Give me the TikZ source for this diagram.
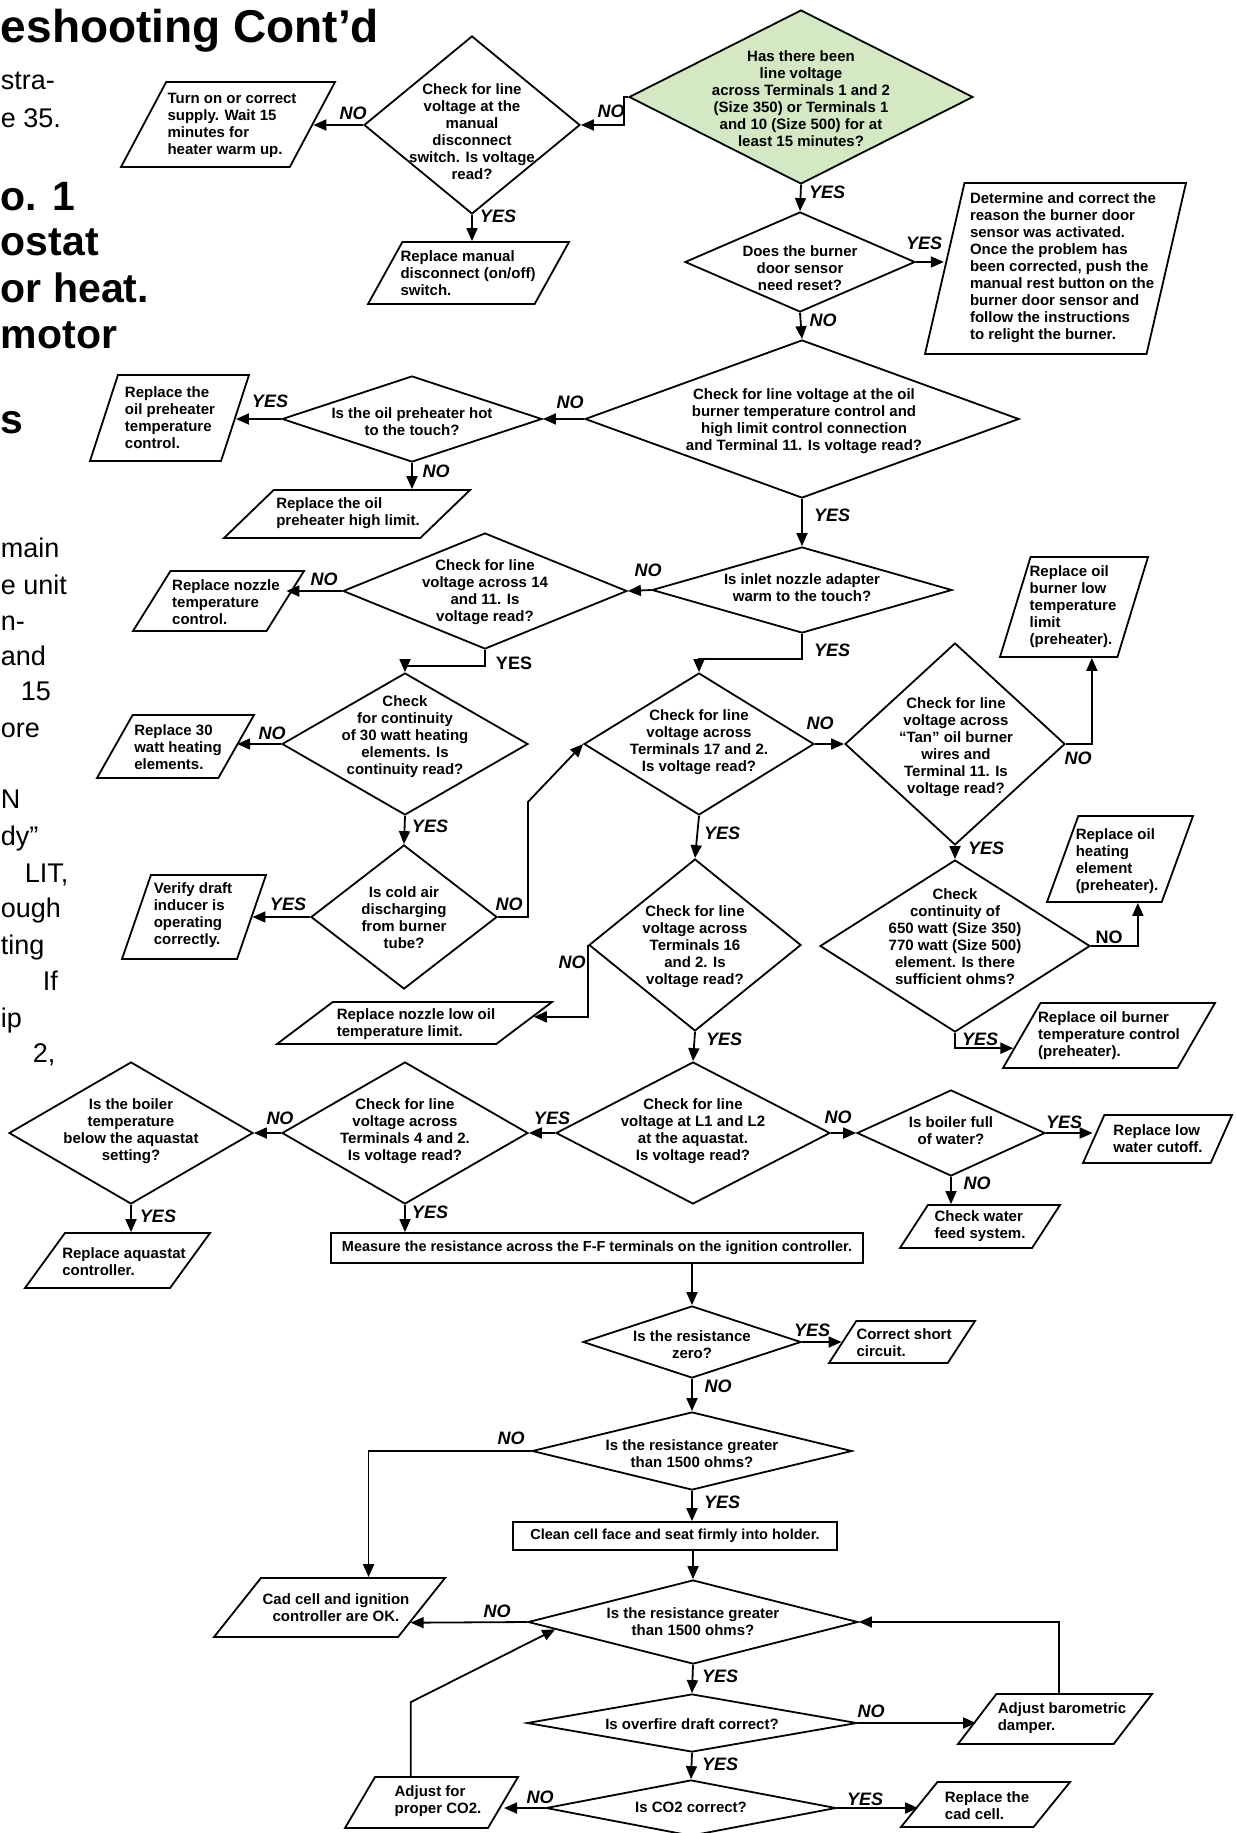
\documentclass[tikz,border=0pt]{standalone}
\usepackage{fontspec}
\setmainfont{Liberation Sans}
\usetikzlibrary{shapes.geometric,arrows.meta,calc}
\definecolor{startgreen}{RGB}{212,232,196}

\begin{document}
\begin{tikzpicture}[x=1pt,y=-1pt,line width=1.8pt]
	\tikzstyle{every node}=[font=\fontsize{15}{17}\selectfont\bfseries]
	\tikzstyle{dec}=[diamond,draw,inner sep=0pt]
	\tikzstyle{dtext}=[align=center,inner sep=0pt]
	\tikzstyle{io}=[trapezium,draw,trapezium stretches body=true,inner xsep=0pt]
	\tikzstyle{ptext}=[align=left,inner sep=0pt]
	\tikzstyle{proc}=[rectangle,draw,inner sep=0pt,font=\fontsize{14.5}{17}\selectfont\bfseries]
	\tikzstyle{lbl}=[inner sep=0pt,font=\fontsize{18}{20}\selectfont\bfseries\itshape]
	\tikzstyle{lblup}=[inner sep=0pt,font=\fontsize{18}{20}\selectfont\bfseries]
	\tikzstyle{arr}=[-{Triangle[length=13pt,width=11pt]}]
	\tikzstyle{pagebody}=[anchor=base west,inner sep=0pt,font=\fontsize{27}{36}\selectfont]
	\tikzstyle{pagehead}=[anchor=base west,inner sep=0pt,font=\fontsize{41}{46}\selectfont\bfseries]
	\useasboundingbox (0,0) rectangle (1235,1833);

	\node[pagehead,font=\fontsize{46}{50}\selectfont\bfseries] (title) at (0,43) {eshooting Cont’d};
	\node[pagebody] (pb1) at (0,90) {stra-};
	\node[pagebody] (pb2) at (0,128) {e 35.};
	\node[pagehead] (ph1) at (0,210) {o. 1};
	\node[pagehead] (ph2) at (0,255) {ostat};
	\node[pagehead] (ph3) at (0,302) {or heat.};
	\node[pagehead] (ph4) at (0,348) {motor};
	\node[pagehead] (ph5) at (0,433) {s};
	\node[pagebody] (pb3) at (0,557) {main};
	\node[pagebody] (pb4) at (0,594) {e unit};
	\node[pagebody] (pb5) at (0,630) {n-};
	\node[pagebody] (pb6) at (0,665) {and};
	\node[pagebody] (pb7) at (20,700) {15};
	\node[pagebody] (pb8) at (0,737) {ore};
	\node[pagebody] (pb9) at (0,808) {N};
	\node[pagebody] (pb10) at (0,845) {dy”};
	\node[pagebody] (pb11) at (24,882) {LIT,};
	\node[pagebody] (pb12) at (0,917) {ough};
	\node[pagebody] (pb13) at (0,954) {ting};
	\node[pagebody] (pb14) at (42,990) {If};
	\node[pagebody] (pb15) at (0,1027) {ip};
	\node[pagebody] (pb16) at (32,1062) {2,};

	\node[dec,fill=startgreen,minimum width=344pt,minimum height=174pt] (D1) at (801,97) {};
	\node[dtext] (D1t) at (801,99) {Has there been\\line voltage\\across Terminals 1 and 2\\(Size 350) or Terminals 1\\and 10 (Size 500) for at\\least 15 minutes?};
	\node[dec,minimum width=216pt,minimum height=178pt] (D0) at (472,125) {};
	\node[dtext] (D0t) at (472,132) {Check for line\\voltage at the\\manual\\disconnect\\switch. Is voltage\\read?};
	\node[dec,minimum width=230pt,minimum height=100pt] (D2) at (800,262) {};
	\node[dtext] (D2t) at (800,268) {Does the burner\\door sensor\\need reset?};
	\node[dec,minimum width=434pt,minimum height=158pt] (D3) at (802,419) {};
	\node[dtext] (D3t) at (804,421) {Check for line voltage at the oil\\burner temperature control and\\high limit control connection\\and Terminal 11. Is voltage read?};
	\node[dec,minimum width=260pt,minimum height=86pt] (D4) at (412,419) {};
	\node[dtext] (D4t) at (412,422) {Is the oil preheater hot\\to the touch?};
	\node[dec,minimum width=300pt,minimum height=86pt] (D5) at (802,590) {};
	\node[dtext] (D5t) at (802,588) {Is inlet nozzle adapter\\warm to the touch?};
	\node[dec,minimum width=284pt,minimum height=116pt] (D6) at (485,591) {};
	\node[dtext] (D6t) at (485,592) {Check for line\\voltage across 14\\and 11. Is\\voltage read?};
	\node[dec,minimum width=246pt,minimum height=142pt] (D7) at (405,744) {};
	\node[dtext] (D7t) at (405,737) {Check\\for continuity\\of 30 watt heating\\elements. Is\\continuity read?};
	\node[dec,minimum width=186pt,minimum height=144pt] (D8) at (404,917) {};
	\node[dtext] (D8t) at (404,918) {Is cold air\\discharging\\from burner\\tube?};
	\node[dec,minimum width=230pt,minimum height=142pt] (D9) at (699,744) {};
	\node[dtext] (D9t) at (699,742) {Check for line\\voltage across\\Terminals 17 and 2.\\Is voltage read?};
	\node[dec,minimum width=220pt,minimum height=202pt] (D10) at (955,744) {};
	\node[dtext] (D10t) at (956,747) {Check for line\\voltage across\\“Tan” oil burner\\wires and\\Terminal 11. Is\\voltage read?};
	\node[dec,minimum width=270pt,minimum height=172pt] (D11) at (955,946) {};
	\node[dtext] (D11t) at (955,937) {Check\\continuity of\\650 watt (Size 350)\\770 watt (Size 500)\\element. Is there\\sufficient ohms?};
	\node[dec,minimum width=212pt,minimum height=172pt] (D12) at (695,945) {};
	\node[dtext] (D12t) at (695,947) {Check for line\\voltage across\\Terminals 16\\and 2. Is\\voltage read?};
	\node[dec,minimum width=274pt,minimum height=142pt] (D13) at (693,1133) {};
	\node[dtext] (D13t) at (693,1131) {Check for line\\voltage at L1 and L2\\at the aquastat.\\Is voltage read?};
	\node[dec,minimum width=246pt,minimum height=142pt] (D14) at (405,1133) {};
	\node[dtext] (D14t) at (405,1131) {Check for line\\voltage across\\Terminals 4 and 2.\\Is voltage read?};
	\node[dec,minimum width=244pt,minimum height=142pt] (D15) at (131,1133) {};
	\node[dtext] (D15t) at (131,1131) {Is the boiler\\temperature\\below the aquastat\\setting?};
	\node[dec,minimum width=188pt,minimum height=86pt] (D16) at (951,1133) {};
	\node[dtext] (D16t) at (951,1131) {Is boiler full\\of water?};
	\node[dec,minimum width=218pt,minimum height=72pt] (D17) at (692,1342) {};
	\node[dtext] (D17t) at (692,1345) {Is the resistance\\zero?};
	\node[dec,minimum width=320pt,minimum height=78pt] (D18) at (692,1451) {};
	\node[dtext] (D18t) at (692,1454) {Is the resistance greater\\than 1500 ohms?};
	\node[dec,minimum width=330pt,minimum height=84pt] (D19) at (693,1622) {};
	\node[dtext] (D19t) at (693,1622) {Is the resistance greater\\than 1500 ohms?};
	\node[dec,minimum width=330pt,minimum height=58pt] (D20) at (692,1723) {};
	\node[dtext] (D20t) at (692,1724) {Is overfire draft correct?};
	\node[dec,minimum width=290pt,minimum height=56pt] (D21) at (691,1808) {};
	\node[dtext] (D21t) at (691,1807) {Is CO2 correct?};

	\node[io,trapezium left angle=62,trapezium right angle=118,minimum width=214pt,inner ysep=42.5pt] (P_turnon) at (228,124.5) {};
	\node[ptext] (P_turnont) at (232,125) {Turn on or correct\\supply. Wait 15\\minutes for\\heater warm up.};
	\node[io,trapezium left angle=61,trapezium right angle=119,minimum width=201pt,inner ysep=31pt] (P_replmanual) at (468.5,273) {};
	\node[ptext] (P_replmanualt) at (468,273) {Replace manual\\disconnect (on/off)\\switch.};
	\node[io,trapezium left angle=77,trapezium right angle=103,minimum width=261pt,inner ysep=85.5pt] (P_det) at (1055.5,268.5) {};
	\node[ptext] (P_dett) at (1063,268) {Determine and correct the\\reason the burner door\\sensor was activated.\\Once the problem has\\been corrected, push the\\manual rest button on the\\burner door sensor and\\follow the instructions\\to relight the burner.};
	\node[io,trapezium left angle=72,trapezium right angle=108,minimum width=159pt,inner ysep=43pt] (P_oilpre) at (169.5,418) {};
	\node[ptext] (P_oilpret) at (170,418) {Replace the\\oil preheater\\temperature\\control.};
	\node[io,trapezium left angle=44,trapezium right angle=136,minimum width=246pt,inner ysep=24pt] (P_highlimit) at (347,514) {};
	\node[ptext] (P_highlimitt) at (348,513) {Replace the oil\\preheater high limit.};
	\node[io,trapezium left angle=58,trapezium right angle=122,minimum width=171pt,inner ysep=30pt] (P_nozzle) at (218.5,601) {};
	\node[ptext] (P_nozzlet) at (226,602) {Replace nozzle\\temperature\\control.};
	\node[io,trapezium left angle=60.5,trapezium right angle=119.5,minimum width=157pt,inner ysep=31.5pt] (P_30w) at (175.5,746.5) {};
	\node[ptext] (P_30wt) at (178,747) {Replace 30\\watt heating\\elements.};
	\node[io,trapezium left angle=71,trapezium right angle=109,minimum width=144pt,inner ysep=42pt] (P_verify) at (194,917) {};
	\node[ptext] (P_verifyt) at (193,915) {Verify draft\\inducer is\\operating\\correctly.};
	\node[io,trapezium left angle=73,trapezium right angle=107,minimum width=148pt,inner ysep=50pt] (P_lowtemp) at (1074,607) {};
	\node[ptext] (P_lowtempt) at (1073,607) {Replace oil\\burner low\\temperature\\limit\\(preheater).};
	\node[io,trapezium left angle=70,trapezium right angle=110,minimum width=146pt,inner ysep=43pt] (P_heatelem) at (1120,859) {};
	\node[ptext] (P_heatelemt) at (1117,861) {Replace oil\\heating\\element\\(preheater).};
	\node[io,trapezium left angle=60,trapezium right angle=120,minimum width=212pt,inner ysep=32.5pt] (P_oilctl) at (1109,1035.5) {};
	\node[ptext] (P_oilctlt) at (1109,1036) {Replace oil burner\\temperature control\\(preheater).};
	\node[io,trapezium left angle=37,trapezium right angle=143,minimum width=275pt,inner ysep=21pt] (P_nozzlelow) at (414.5,1023) {};
	\node[ptext] (P_nozzlelowt) at (416,1024) {Replace nozzle low oil\\temperature limit.};
	\node[io,trapezium left angle=66,trapezium right angle=114,minimum width=149pt,inner ysep=24pt] (P_lowwater) at (1157.5,1139) {};
	\node[ptext] (P_lowwatert) at (1158,1139) {Replace low\\water cutoff.};
	\node[io,trapezium left angle=57,trapezium right angle=123,minimum width=160pt,inner ysep=21.5pt] (P_water) at (980,1226.5) {};
	\node[ptext] (P_watert) at (980,1226) {Check water\\feed system.};
	\node[io,trapezium left angle=54,trapezium right angle=126,minimum width=185pt,inner ysep=27.5pt] (P_aquastat) at (117.5,1260.5) {};
	\node[ptext] (P_aquastatt) at (124,1262) {Replace aquastat\\controller.};
	\node[io,trapezium left angle=57,trapezium right angle=123,minimum width=146pt,inner ysep=21pt] (P_short) at (902,1342) {};
	\node[ptext] (P_shortt) at (904,1343) {Correct short\\circuit.};
	\node[io,trapezium left angle=51.5,trapezium right angle=128.5,minimum width=231pt,inner ysep=29.5pt] (P_cadok) at (329.5,1607.5) {};
	\node[dtext] (P_cadokt) at (336,1608) {Cad cell and ignition\\controller are OK.};
	\node[io,trapezium left angle=52.5,trapezium right angle=127.5,minimum width=194pt,inner ysep=25pt] (P_baro) at (1055,1719) {};
	\node[ptext] (P_barot) at (1062,1718) {Adjust barometric\\damper.};
	\node[io,trapezium left angle=59.5,trapezium right angle=120.5,minimum width=173pt,inner ysep=25.5pt] (P_co2) at (431.5,1802.5) {};
	\node[ptext] (P_co2t) at (438,1801) {Adjust for\\proper CO2.};
	\node[io,trapezium left angle=51,trapezium right angle=129,minimum width=169pt,inner ysep=22.5pt] (P_cadcell) at (985.5,1804.5) {};
	\node[ptext] (P_cadcellt) at (987,1806) {Replace the\\cad cell.};

	\node[proc,minimum width=532pt,minimum height=30pt] (R_measure) at (597,1248) {Measure the resistance across the F-F terminals on the ignition controller.};
	\node[proc,minimum width=324pt,minimum height=28pt] (R_clean) at (675,1536) {Clean cell face and seat firmly into holder.};

	\draw[arr] (D1.west) -- ++(-4,0) |- (D0.east);
	\draw[arr] (D0.west) -- (D0.west -| P_turnon.right side);
	\draw[arr] (D0.south) -- (D0.south |- P_replmanual.top side);
	\draw[arr] (D1.south) -- (D2.north);
	\draw[arr] (D2.east) -- (D2.east -| P_det.left side);
	\draw[arr] (D2.south) -- (D3.north);
	\draw[arr] (D3.west) -- (D4.east);
	\draw[arr] (D4.west) -- (D4.west -| P_oilpre.right side);
	\draw[arr] (D4.south) -- (D4.south |- P_highlimit.top side);
	\draw[arr] (D3.south) -- (D5.north);
	\draw[arr] (D5.west) -- (D6.east);
	\draw[arr] (D6.west) -- (D6.west -| P_nozzle.right side);
	\draw[arr] (D6.south) -- ++(0,16) -| (D7.north);
	\draw[arr] (D7.west) -- (D7.west -| P_30w.right side);
	\draw[arr] (D7.south) -- (D8.north);
	\draw[arr] (D8.west) -- (D8.west -| P_verify.right side);
	\draw[arr] (D8.east) -- ++(30,0) -- ++(0,-115) -- (D9.west);
	\draw[arr] (D5.south) -- ++(0,25) -| (D9.north);
	\draw[arr] (D9.east) -- (D10.west);
	\draw[arr] (D10.east) -| ($(P_lowtemp.bottom left corner)!0.78!(P_lowtemp.bottom right corner)$);
	\draw[arr] (D10.south) -- (D11.north);
	\draw[arr] (D11.east) -| ($(P_heatelem.bottom left corner)!0.79!(P_heatelem.bottom right corner)$);
	\draw[arr] (D11.south) |- ($(P_oilctl.bottom left corner)!0.31!(P_oilctl.top left corner)$);
	\draw[arr] (D9.south) -- (D12.north);
	\draw[arr] (D12.west) |- ($(P_nozzlelow.bottom right corner)!0.64!(P_nozzlelow.top right corner)$);
	\draw[arr] (D12.south) -- (D13.north);
	\draw[arr] (D13.west) -- (D14.east);
	\draw[arr] (D14.west) -- (D15.east);
	\draw[arr] (D15.south) -- (D15.south |- P_aquastat.top side);
	\draw[arr] (D13.east) -- (D16.west);
	\draw[arr] (D16.east) -- (D16.east -| P_lowwater.left side);
	\draw[arr] (D16.south) -- (D16.south |- P_water.top side);
	\draw[arr] (D14.south) -- (D14.south |- R_measure.north);
	\draw[arr] (D17.north |- R_measure.south) -- (D17.north);
	\draw[arr] (D17.east) -- (D17.east -| P_short.left side);
	\draw[arr] (D17.south) -- (D18.north);
	\draw[arr] (D18.west) -| ($(P_cadok.top left corner)!0.58!(P_cadok.top right corner)$);
	\draw[arr] (D18.south) -- (D18.south |- R_clean.north);
	\draw[arr] (D19.north |- R_clean.south) -- (D19.north);
	\draw[arr] (D19.west) -- ($(P_cadok.bottom right corner)!0.25!(P_cadok.top right corner)$);
	\draw[arr] (D19.south) -- (D20.north);
	\draw[arr] (D20.east) -- (D20.east -| P_baro.left side);
	\draw[arr] ($(P_baro.top left corner)!0.4!(P_baro.top right corner)$) |- (D19.east);
	\draw[arr] (D20.south) -- (D21.north);
	\draw[arr] (D21.west) -- (D21.west -| P_co2.right side);
	\draw[arr] ($(P_co2.top left corner)!0.25!(P_co2.top right corner)$) -- ++(0,-74) -- ($(D19.west)!0.17!(D19.south)$);
	\draw[arr] (D21.east) -- (D21.east -| P_cadcell.left side);

	\node[lbl] (l0) at (353,113) {NO};
	\node[lbl] (l1) at (498,216) {YES};
	\node[lbl] (l2) at (611,111) {NO};
	\node[lbl] (l3) at (827,192) {YES};
	\node[lbl] (l4) at (924,243) {YES};
	\node[lbl] (l5) at (823,320) {NO};
	\node[lbl] (l6) at (570,402) {NO};
	\node[lbl] (l7) at (270,401) {YES};
	\node[lbl] (l8) at (436,471) {NO};
	\node[lbl] (l9) at (832,515) {YES};
	\node[lbl] (l10) at (648,570) {NO};
	\node[lbl] (l11) at (832,650) {YES};
	\node[lbl] (l12) at (324,579) {NO};
	\node[lblup] (l13) at (514,663) {YES};
	\node[lbl] (l14) at (272,733) {NO};
	\node[lbl] (l15) at (430,826) {YES};
	\node[lbl] (l16) at (288,904) {YES};
	\node[lbl] (l17) at (509,904) {NO};
	\node[lbl] (l18) at (820,723) {NO};
	\node[lbl] (l19) at (1078,758) {NO};
	\node[lbl] (l20) at (986,848) {YES};
	\node[lblup] (l21) at (1109,937) {NO};
	\node[lbl] (l22) at (980,1039) {YES};
	\node[lbl] (l23) at (722,833) {YES};
	\node[lbl] (l24) at (572,962) {NO};
	\node[lbl] (l25) at (724,1039) {YES};
	\node[lbl] (l26) at (552,1118) {YES};
	\node[lbl] (l27) at (838,1117) {NO};
	\node[lbl] (l28) at (280,1118) {NO};
	\node[lbl] (l29) at (430,1212) {YES};
	\node[lbl] (l30) at (158,1216) {YES};
	\node[lbl] (l31) at (1064,1122) {YES};
	\node[lbl] (l32) at (977,1183) {NO};
	\node[lbl] (l33) at (812,1330) {YES};
	\node[lbl] (l34) at (718,1386) {NO};
	\node[lbl] (l35) at (511,1438) {NO};
	\node[lbl] (l36) at (722,1502) {YES};
	\node[lbl] (l37) at (497,1611) {NO};
	\node[lbl] (l38) at (720,1676) {YES};
	\node[lbl] (l39) at (871,1711) {NO};
	\node[lbl] (l40) at (720,1764) {YES};
	\node[lbl] (l41) at (540,1797) {NO};
	\node[lbl] (l42) at (865,1799) {YES};
\end{tikzpicture}
\end{document}
